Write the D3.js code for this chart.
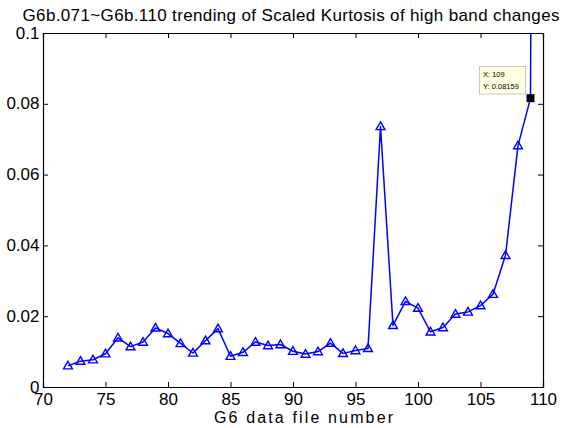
<!DOCTYPE html>
<html>
<head>
<meta charset="utf-8">
<script src="https://cdn.jsdelivr.net/npm/d3@7"></script>
<style>
  html, body { margin: 0; padding: 0; background: #fff; }
  svg { display: block; font-family: "Liberation Sans", Arial, sans-serif; }
</style>
</head>
<body>
<svg id="chart" width="563" height="428"></svg>
<script>
// G6 data file numbers and their scaled kurtosis (high band changes)
const fileNumbers = [72, 73, 74, 75, 76, 77, 78, 79, 80, 81, 82, 83, 84, 85, 86, 87, 88, 89, 90,
  91, 92, 93, 94, 95, 96, 97, 98, 99, 100, 101, 102, 103, 104, 105, 106, 107, 108, 109, 110];
const kurtosis = [0.0060, 0.0073, 0.0077, 0.0094, 0.0139, 0.0114, 0.0127, 0.0167, 0.0151, 0.0123,
  0.0096, 0.0131, 0.0165, 0.0087, 0.0098, 0.0127, 0.0117, 0.0120, 0.0101,
  0.0093, 0.0100, 0.0124, 0.0095, 0.0103, 0.0109, 0.0736, 0.0174, 0.0242, 0.0223, 0.0156,
  0.0168, 0.0206, 0.0212, 0.0230, 0.0262, 0.0372, 0.0682, 0.08159, 0.9];
const xTicks = [70, 75, 80, 85, 90, 95, 100, 105, 110];
const yTicks = [0, 0.02, 0.04, 0.06, 0.08, 0.1];
const yTickLabels = ["0", "0.02", "0.04", "0.06", "0.08", "0.1"];
// highlighted data point shown in the data tip
const tipPoint = { x: 109, y: 0.08159 };

const svg = d3.select("#chart");
const plotLeft = 43, plotRight = 543, plotTop = 33, plotBottom = 387;

const x = d3.scaleLinear().domain([70, 110]).range([plotLeft, plotRight]);
const y = d3.scaleLinear().domain([0, 0.1]).range([plotBottom, plotTop]);

svg.append("defs").append("clipPath").attr("id", "plotClip")
  .append("rect").attr("x", plotLeft).attr("y", plotTop)
  .attr("width", plotRight - plotLeft).attr("height", plotBottom - plotTop);

// title
svg.append("text").attr("x", 22.5).attr("y", 20.7)
  .attr("font-size", 17).attr("fill", "#000")
  .attr("textLength", 537).attr("lengthAdjust", "spacing")
  .text("G6b.071~G6b.110 trending of Scaled Kurtosis of high band changes");

// axes (ticks inward, box style)
const tickLen = 5;
const gBottom = svg.append("g").attr("transform", `translate(0,${plotBottom})`)
  .call(d3.axisBottom(x).tickValues(xTicks).tickSize(-tickLen).tickPadding(6).tickFormat(d3.format("d")));
const gTop = svg.append("g").attr("transform", `translate(0,${plotTop})`)
  .call(d3.axisTop(x).tickValues(xTicks).tickSize(-tickLen).tickFormat(""));
const gLeft = svg.append("g").attr("transform", `translate(${plotLeft},0)`)
  .call(d3.axisLeft(y).tickValues(yTicks).tickSize(-tickLen).tickPadding(3.5)
    .tickFormat((d, i) => yTickLabels[i]));
const gRight = svg.append("g").attr("transform", `translate(${plotRight},0)`)
  .call(d3.axisRight(y).tickValues(yTicks).tickSize(-tickLen).tickFormat(""));

[gBottom, gTop, gLeft, gRight].forEach(g => {
  g.select(".domain").attr("stroke", "#000").attr("stroke-width", 1.2);
  g.selectAll(".tick line").attr("stroke", "#000").attr("stroke-width", 1);
  g.selectAll(".tick text").attr("fill", "#000").attr("font-size", 17)
    .attr("font-family", "Liberation Sans, Arial, sans-serif");
});
gLeft.selectAll(".tick text").attr("dy", "0.3em");
gBottom.selectAll(".tick text").attr("dy", "0.68em");

// x label
svg.append("text").attr("x", 214).attr("y", 423)
  .attr("font-size", 16).attr("fill", "#000")
  .attr("textLength", 179).attr("lengthAdjust", "spacing")
  .text("G6 data file number");

const data = fileNumbers.map((f, i) => ({ f, v: kurtosis[i] }));
const plot = svg.append("g").attr("clip-path", "url(#plotClip)");

plot.append("path").datum(data)
  .attr("fill", "none").attr("stroke", "#0000ff").attr("stroke-width", 1.5)
  .attr("stroke-linejoin", "round")
  .attr("d", d3.line().x(d => x(d.f)).y(d => y(d.v)));

// open triangle markers
const tri = d3.symbol().type(d3.symbolTriangle).size(34);
plot.selectAll(".mk").data(data.filter(d => d.f !== tipPoint.x)).join("path")
  .attr("class", "mk")
  .attr("transform", d => `translate(${x(d.f)},${y(d.v) + 0.6})`)
  .attr("d", tri).attr("fill", "none").attr("stroke", "#0000ff").attr("stroke-width", 1.4);

// data tip
const tx = x(tipPoint.x), ty = y(tipPoint.y);
svg.append("rect").attr("x", tx - 4).attr("y", ty - 4).attr("width", 8).attr("height", 8)
  .attr("fill", "#000");
const tip = svg.append("g");
tip.append("rect").attr("x", 479.5).attr("y", 66.5).attr("width", 46).attr("height", 27.5)
  .attr("fill", "#ffffe1").attr("stroke", "#c8c8c8").attr("stroke-width", 1);
tip.append("text").attr("x", 483).attr("y", 77).attr("font-size", 7.5).attr("fill", "#000")
  .text("X: " + tipPoint.x);
tip.append("text").attr("x", 483).attr("y", 88.5).attr("font-size", 7.5).attr("fill", "#000")
  .text("Y: " + tipPoint.y);
</script>
</body>
</html>
